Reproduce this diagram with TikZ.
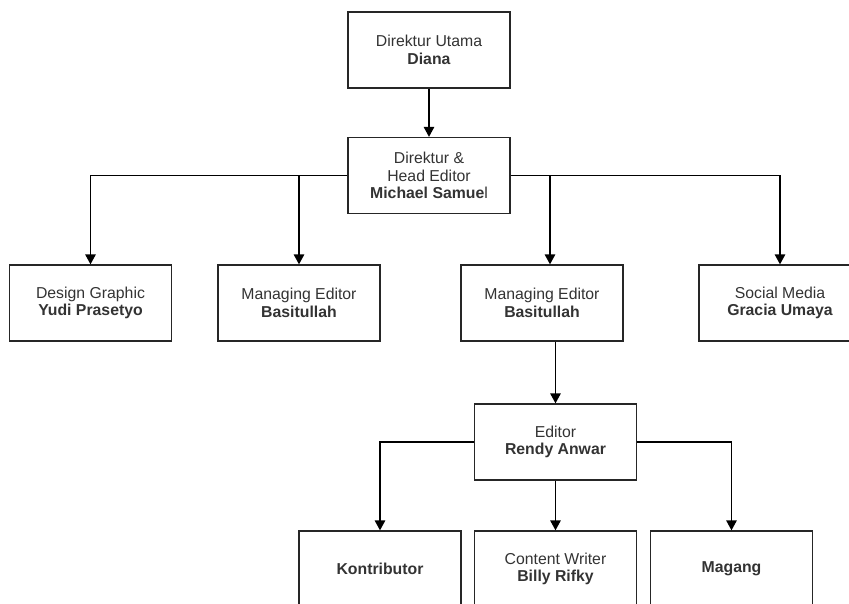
\documentclass[tikz,border=0pt]{standalone}
\usepackage{fontspec}
\setmainfont{Liberation Sans}
\usetikzlibrary{positioning,arrows.meta}

\begin{document}
\begin{tikzpicture}[x=1pt,y=-1pt,
    box/.style={draw=black!85,line width=1.3pt,minimum width=162pt,minimum height=76pt,
      inner sep=2pt,align=center,text=black!80,font=\fontsize{15.8}{17.5}\selectfont},
    link/.style={draw=black,line width=1.3pt,-{Triangle[width=10.5pt,length=10pt]}}]
  \useasboundingbox (0,0) rectangle (849,603);
  \clip (0,0) rectangle (849,603);
  % top levels
  \node[box](utama) at (429,50){Direktur Utama\\\textbf{Diana}};
  \node[box](head) at (429,175.5){Direktur \&\\Head Editor\\\textbf{Michael Samue}l};
  % second level
  \node[box](design) at (90.5,303){Design Graphic\\\textbf{Yudi Prasetyo}};
  \node[box](manage1) at (299,303){Managing Editor\\\textbf{Basitullah}};
  \node[box](manage2) at (542,303){Managing Editor\\\textbf{Basitullah}};
  \node[box](social) at (780,303){Social Media\\\textbf{Gracia Umaya}};
  % editor and below
  \node[box](editor) at (555.5,442){Editor\\\textbf{Rendy Anwar}};
  \node[box](kontrib) at (380,569){\textbf{Kontributor}};
  \node[box](writer) at (555.5,569){Content Writer\\\textbf{Billy Rifky}};
  \node[box](magang) at (731.5,569){\textbf{Magang}};
  \draw[link] (utama) -- (head);
  \draw[link] (head.west) -| (design.north);
  \draw[link] (head.west) -| (manage1.north);
  \draw[link] (head.east) -| ([xshift=8pt]manage2.north);
  \draw[link] (head.east) -| (social.north);
  \draw[link] (editor.north |- manage2.south) -- (editor.north);
  \draw[link] (editor.west) -| (kontrib.north);
  \draw[link] (editor) -- (writer);
  \draw[link] (editor.east) -| (magang.north);
\end{tikzpicture}
\end{document}
